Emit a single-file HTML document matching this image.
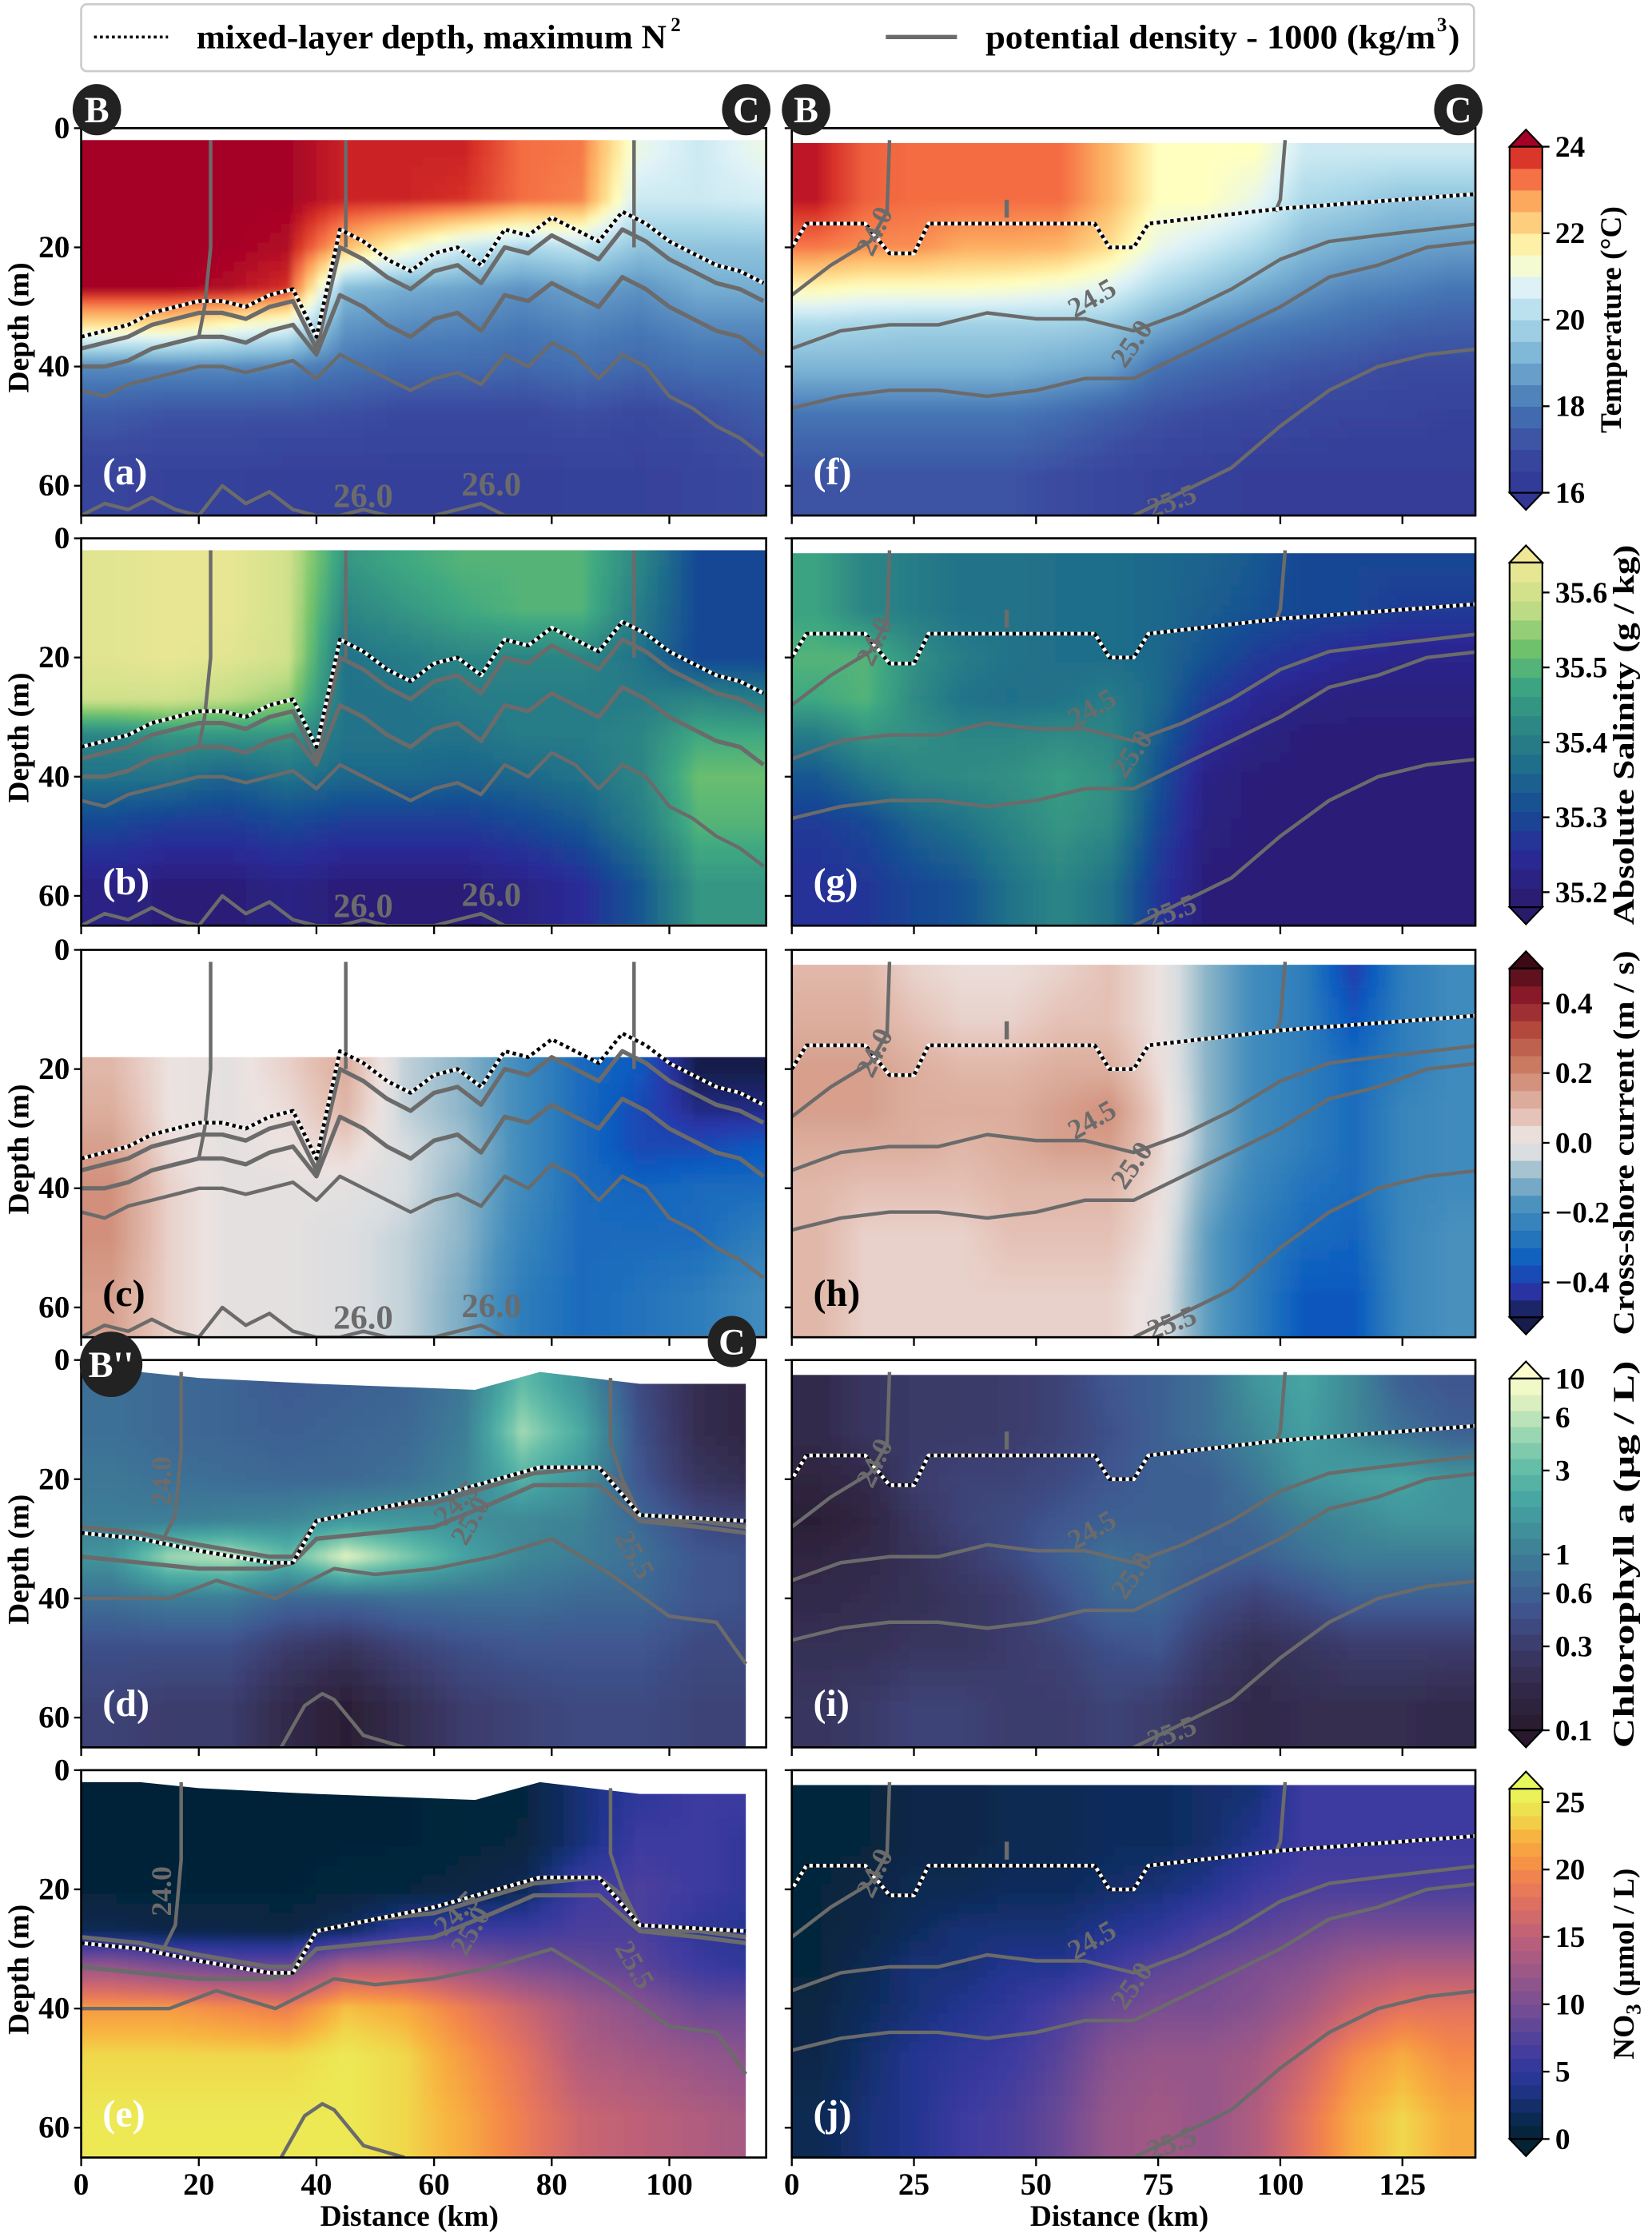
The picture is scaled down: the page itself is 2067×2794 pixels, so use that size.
<!DOCTYPE html>
<html><head><meta charset="utf-8">
<style>
html,body{margin:0;padding:0;background:#fff;}
svg{display:block;font-family:"Liberation Serif",serif;font-weight:bold;}
</style></head>
<body>
<svg id="fig" xmlns="http://www.w3.org/2000/svg" width="2067" height="2794" viewBox="0 0 1160 1568" preserveAspectRatio="none">
<defs>
<filter id="blur" x="-5%" y="-5%" width="110%" height="110%"><feGaussianBlur stdDeviation="2.5"/></filter>
</defs>
<g>
<rect x="57" y="3" width="978" height="47" rx="4" fill="#fff" stroke="#ccc" stroke-width="1.5"/>
<line x1="66" y1="26" x2="118" y2="26" stroke="#000" stroke-width="2" stroke-dasharray="2,2.2"/>
<text x="138" y="34" font-size="24" textLength="330" lengthAdjust="spacingAndGlyphs">mixed-layer depth, maximum N</text>
<text x="471" y="22" font-size="14">2</text>
<line x1="622" y1="26" x2="672" y2="26" stroke="#6b6b6b" stroke-width="3"/>
<text x="692" y="34" font-size="24" textLength="316" lengthAdjust="spacingAndGlyphs">potential density - 1000 (kg/m</text>
<text x="1009" y="22" font-size="14">3</text>
<text x="1017" y="34" font-size="24">)</text>
</g>
<g id="panels"></g>
<g id="cbars"></g>
</svg>
<script>
// ---------- DATA ----------
const depthEdges = [0,8,16,24,30,36,44,52,65];
const tickDepths = [0,20,40,60];
const leftTicks = [0,20,40,60,80,100];
const rightTicks = [0,25,50,75,100,125];

const tempLeft = [
[24.2,24.2,24.2,24.2,23.9,23.9,23.9,23.3,23.2,21,20.5,21],
[24.2,24.2,24.2,24.2,23.9,23.9,23.8,23.3,23.1,20.5,20.5,20.6],
[24.2,24.2,24.2,24.1,22.5,21.5,20.5,20,20.3,19.5,19.5,19.5],
[24.2,24.2,24.1,23.8,19.3,19,18.8,18.5,18.8,18.5,19,19],
[22,22,21.5,21,18.6,18.4,18.3,18.1,18.3,18.1,18.4,18.4],
[18.4,18.4,18.4,18.3,18,17.8,17.8,17.7,17.9,17.7,17.9,17.9],
[17.4,17.2,17.2,17.2,17.1,16.9,16.9,16.9,17.1,16.9,17.1,17.4],
[16.7,16.6,16.6,16.5,16.5,16.5,16.5,16.5,16.6,16.6,16.7,16.9]];
const tempRight = [
[24,23.4,23.3,23.3,23.3,23.3,22.6,21.5,21.5,21.5,20.5,20.5,20.5,20.5],
[24,23.4,23.3,23.3,23.3,23.3,22.6,21.5,21.5,21,20,19.8,19.5,19.5],
[23.2,23,23,22.7,22.7,22.6,22,21,20.5,20,19.3,19,18.8,18.7],
[21.6,21.4,21.4,21.4,21.3,21.1,20.8,20,19.5,19,18.6,18.3,18.2,18],
[20,19.9,19.8,19.8,19.8,19.8,19.6,19,18.5,18.2,18,17.8,17.6,17.5],
[19.2,19.2,19.2,19.2,19.2,19,18.8,18,17.7,17.5,17.3,17.2,17,17],
[18,18,18,18,18,17.8,17.5,17.2,17,16.9,16.8,16.7,16.7,16.6],
[17.2,17.2,17.2,17.2,17.2,17,16.8,16.6,16.5,16.4,16.4,16.4,16.4,16.4]];
const salLeft = [
[35.62,35.63,35.63,35.6,35.45,35.48,35.5,35.5,35.5,35.42,35.3,35.3],
[35.62,35.63,35.63,35.6,35.42,35.45,35.48,35.5,35.5,35.4,35.3,35.3],
[35.62,35.63,35.62,35.6,35.38,35.4,35.42,35.42,35.42,35.38,35.3,35.3],
[35.6,35.6,35.58,35.55,35.38,35.38,35.4,35.4,35.4,35.4,35.42,35.4],
[35.42,35.45,35.45,35.45,35.38,35.38,35.38,35.4,35.4,35.42,35.48,35.48],
[35.38,35.38,35.35,35.38,35.36,35.36,35.35,35.36,35.38,35.42,35.52,35.52],
[35.3,35.28,35.28,35.3,35.28,35.28,35.28,35.3,35.33,35.4,35.5,35.5],
[35.22,35.2,35.2,35.22,35.2,35.2,35.2,35.22,35.25,35.33,35.45,35.45]];
const salRight = [
[35.47,35.42,35.4,35.38,35.38,35.37,35.37,35.36,35.35,35.33,35.3,35.3,35.3,35.3],
[35.47,35.42,35.4,35.38,35.38,35.37,35.37,35.36,35.34,35.32,35.3,35.3,35.28,35.28],
[35.5,35.5,35.44,35.4,35.38,35.37,35.37,35.36,35.32,35.28,35.26,35.24,35.23,35.23],
[35.48,35.5,35.43,35.38,35.37,35.38,35.4,35.36,35.28,35.24,35.22,35.21,35.21,35.21],
[35.4,35.45,35.44,35.42,35.42,35.43,35.42,35.34,35.25,35.22,35.2,35.2,35.2,35.2],
[35.33,35.38,35.42,35.43,35.44,35.46,35.44,35.32,35.22,35.2,35.2,35.2,35.2,35.2],
[35.28,35.3,35.35,35.38,35.42,35.45,35.43,35.3,35.21,35.2,35.2,35.2,35.2,35.2],
[35.26,35.27,35.3,35.32,35.38,35.42,35.38,35.27,35.2,35.2,35.2,35.2,35.2,35.2]];
const curLeft = [
[0.1,0.02,0.0,0.05,0.12,-0.05,-0.1,-0.2,-0.3,-0.35,-0.5,-0.5],
[0.1,0.02,0.0,0.05,0.12,-0.05,-0.1,-0.2,-0.3,-0.35,-0.5,-0.5],
[0.1,0.02,0.0,0.05,0.12,-0.05,-0.1,-0.2,-0.3,-0.35,-0.5,-0.5],
[0.12,0.02,0.0,0.03,0.1,-0.05,-0.1,-0.2,-0.3,-0.38,-0.45,-0.45],
[0.15,0.03,0.0,0.02,0.05,-0.03,-0.08,-0.2,-0.3,-0.38,-0.38,-0.35],
[0.18,0.05,0.0,0.0,0.0,-0.03,-0.1,-0.2,-0.3,-0.32,-0.3,-0.3],
[0.18,0.05,0.0,0.0,-0.02,-0.05,-0.1,-0.22,-0.3,-0.3,-0.3,-0.25],
[0.15,0.05,0.0,0.0,-0.02,-0.05,-0.12,-0.25,-0.3,-0.28,-0.25,-0.2]];
const curRight = [
[0.1,0.1,0.05,0.03,0.03,0.05,0.08,0.02,-0.1,-0.2,-0.25,-0.4,-0.25,-0.2],
[0.12,0.12,0.08,0.05,0.05,0.08,0.08,0.02,-0.1,-0.2,-0.25,-0.35,-0.25,-0.2],
[0.15,0.15,0.12,0.1,0.1,0.12,0.12,0.03,-0.1,-0.2,-0.25,-0.3,-0.25,-0.2],
[0.15,0.15,0.12,0.12,0.12,0.15,0.18,0.05,-0.1,-0.2,-0.25,-0.3,-0.22,-0.2],
[0.12,0.12,0.12,0.1,0.12,0.15,0.15,0.05,-0.1,-0.2,-0.25,-0.3,-0.22,-0.2],
[0.1,0.08,0.08,0.08,0.1,0.1,0.1,0.03,-0.12,-0.22,-0.28,-0.3,-0.22,-0.2],
[0.1,0.05,0.05,0.05,0.08,0.08,0.08,0.02,-0.15,-0.25,-0.3,-0.32,-0.22,-0.18],
[0.1,0.05,0.05,0.05,0.05,0.05,0.05,0.0,-0.15,-0.25,-0.35,-0.35,-0.22,-0.18]];
const chlLeft = [
[0.8,0.7,0.65,0.55,0.6,0.65,0.9,3,1.5,0.4,0.2,0.15],
[0.8,0.7,0.65,0.6,0.65,0.7,1,5,2.2,0.45,0.2,0.15],
[0.9,0.8,0.75,0.7,0.7,0.8,1.1,2.5,1.5,0.5,0.25,0.2],
[1,1,1.1,1.2,1.6,1.6,1.4,1.2,1.1,0.7,0.4,0.35],
[1.5,5,6,3,8,4,2,1.2,1,0.8,0.5,0.45],
[0.8,1,1,0.7,0.7,0.8,0.8,0.8,0.7,0.7,0.5,0.45],
[0.45,0.45,0.45,0.3,0.25,0.35,0.45,0.5,0.5,0.5,0.4,0.4],
[0.35,0.3,0.3,0.18,0.12,0.2,0.3,0.35,0.4,0.4,0.35,0.35]];
const chlRight = [
[0.18,0.25,0.28,0.28,0.3,0.35,0.5,0.6,0.8,1.5,2,1.2,0.6,0.5],
[0.18,0.25,0.28,0.28,0.3,0.35,0.45,0.6,0.8,1.2,1.8,1.2,0.8,0.6],
[0.15,0.18,0.3,0.35,0.35,0.4,0.5,0.6,0.6,0.9,1.5,1.8,2,1.5],
[0.12,0.15,0.25,0.35,0.4,0.5,0.6,0.6,0.6,0.7,1,1.2,1.5,1.5],
[0.15,0.18,0.22,0.3,0.4,0.6,0.8,0.7,0.6,0.6,0.8,1,1,1],
[0.18,0.2,0.22,0.25,0.3,0.45,0.7,0.7,0.45,0.35,0.45,0.6,0.6,0.6],
[0.22,0.22,0.25,0.25,0.3,0.35,0.45,0.5,0.3,0.22,0.25,0.3,0.3,0.3],
[0.25,0.28,0.35,0.35,0.3,0.3,0.35,0.3,0.22,0.18,0.2,0.2,0.2,0.18]];
const no3Left = [
[0.3,0.3,0.3,0.3,0.3,0.3,0.4,0.5,3,5,6,6],
[0.3,0.3,0.3,0.3,0.3,0.3,0.4,0.6,3,6,6,5],
[0.3,0.3,0.3,0.3,0.4,0.5,0.8,1.5,6,7,6,5],
[1.5,1,1,0.8,2,5,6,6,7,7,5,4],
[12,10,9,9,14,14,12,10,9,8,6,5],
[21,21,20,19,23,22,19,16,13,11,9,9],
[24,24,24,24,25,24,21,18,14,13,12,11],
[25,25,25,25,25,24,22,19,16,15,14,13]];
const no3Right = [
[0.5,0.5,1,1,1.5,1.5,2,2,2.5,3,6,6,6,6],
[0.5,0.5,1,1,1.5,1.5,2,2,2.5,4,6,6,6,6],
[0.5,0.8,1.5,1.5,2,2,2.5,3,4,6,7,7,7,7],
[0.5,1,2,3,3,3,4,5,7,8,9,10,10,10],
[0.5,1.5,3,3,4,4,6,8,9,10,11,13,14,14],
[0.8,2,3,4,5,7,9,10,10,11,13,16,18,18],
[1,2.5,4,5,6,8,11,12,12,13,16,20,22,20],
[1.5,3,4,6,7,9,12,13,12,14,18,22,24,22]];

const gliderDist = [0,4,8,12,16,20,24,28,32,36,40,44,48,52,56,60,64,68,72,76,80,84,88,92,96,100,104,108,112,116];
const mldGlider = [35,34,33,31,30,29,29,30,28,27,35,17,19,22,24,21,20,23,17,18,15,17,19,14,16,19,21,23,24,26];
const sig245Glider = [37,36,35,33,32,31,31,32,30,29,37,20,22,25,27,24,23,26,20,21,18,20,22,17,19,22,24,26,27,29];
const sig250Glider = [40,40,39,37,36,35,35,36,34,33,38,28,30,33,35,32,31,34,28,29,26,28,30,25,27,30,32,34,35,38];
const sig255Glider = [44,45,43,42,41,40,40,41,40,39,42,38,40,42,44,42,41,43,38,40,36,38,42,38,40,45,47,50,52,55];
const sig260Glider = [65,63,64,62,64,65,60,63,61,64,65,65,64,65,65,65,64,63,65,65,65,65,65,65,65,65,65,65,65,65];

const topDist = [0,10,20,40,67,78,95,113];
const topDepth = [2,2,3,4,5,2,4,4];
const mldDist = [0,10,20,32,36,40,60,78,88,95,113];
const mldDepth = [29,30,32,34,34,27,23,18,18,26,27];
const s240Dist = [17,17,16,14,13];
const s240Depth = [2,15,26,30,31];
const s245Dist = [0,10,20,32,36,40,50,60,77,88,92,95,105,113];
const s245Depth = [28,29,31,33,33,27,25,24,19,18,21,27,27,28];
const s250Dist = [0,10,20,32,36,40,50,60,70,77,88,95,105,113];
const s250Depth = [33,34,35,35,34,30,29,28,24,21,21,27,28,29];
const s255Dist = [0,15,23,33,37,43,50,60,70,80,90,100,108,113];
const s255Depth = [40,40,37,40,38,35,36,35,33,30,36,43,44,51];
const s260Dist = [34,38,41,43,48,55];
const s260Depth = [65,58,56,57,63,65];

const mRightDist = [0,3,15,20,25,28,62,65,70,73,100,141];
const mRightDepth = [20,16,16,21,21,16,16,20,20,16,13.5,11];
const r240Dist = [20,19.5,16,8,0];
const r240Depth = [2,14,19,23,28];
const r240bDist = [101,100,99];
const r240bDepth = [2,12,14];
const r245Dist = [0,10,20,30,40,50,60,70,80,90,100,110,120,141];
const r245Depth = [37,34,33,33,31,32,32,34,31,27,22,19,18,16];
const r250Dist = [0,10,20,30,40,50,60,70,80,90,100,110,120,130,141];
const r250Depth = [47,45,44,44,45,44,42,42,38,34,30,25,23,20,19];
const r255Dist = [70,80,90,100,110,120,130,141];
const r255Depth = [65,61,57,50,44,40,38,37];

// ---------- COLORMAPS ----------
const cmTemp=[[16,'#313695'],[17,'#3a4a9f'],[18,'#4575b4'],[19,'#74add1'],[20,'#abd9e9'],[20.8,'#e0f3f8'],[21.5,'#ffffbf'],[22,'#fee090'],[22.7,'#fdae61'],[23.3,'#f46d43'],[23.8,'#d73027'],[24.2,'#a50026']];
const cmSal=[[35.18,'#2a1a6a'],[35.25,'#2a2a98'],[35.31,'#164c94'],[35.37,'#1f6e8a'],[35.43,'#2f8a84'],[35.48,'#3ea882'],[35.53,'#74c46a'],[35.58,'#c2dd86'],[35.64,'#f0e896']];
const cmCur=[[-0.5,'#161d4a'],[-0.42,'#2a35a8'],[-0.34,'#0b5cc0'],[-0.26,'#2a7abb'],[-0.18,'#4890bd'],[-0.1,'#8ab4c8'],[-0.03,'#d8dde0'],[0.02,'#ece2e0'],[0.08,'#e4c0b4'],[0.14,'#d8a492'],[0.22,'#cc7c64'],[0.32,'#b54a3e'],[0.42,'#8c1a2a'],[0.52,'#3c0a14']];
const cmChl=[[-1,'#281a2c'],[-0.7,'#342d50'],[-0.5,'#3c3e70'],[-0.3,'#3f5690'],[-0.1,'#3c7096'],[0.05,'#3e8496'],[0.3,'#45a4a2'],[0.5,'#64bea8'],[0.7,'#a0d8b4'],[0.85,'#d6eebe'],[1,'#fdfecc']];
const cmNo3=[[0,'#042333'],[2,'#0d2c5c'],[4,'#243590'],[6,'#3c3aa0'],[8,'#5a4498'],[10,'#7a4e92'],[12,'#95568a'],[15,'#bd6078'],[18,'#e4735e'],[20,'#f58a48'],[22.5,'#f8b440'],[24,'#f0d84c'],[26,'#e8fa5b']];

function hex2rgb(h){return [parseInt(h.substr(1,2),16),parseInt(h.substr(3,2),16),parseInt(h.substr(5,2),16)];}
function cmap(stops,v){
  if(v<=stops[0][0]) return stops[0][1];
  if(v>=stops[stops.length-1][0]) return stops[stops.length-1][1];
  for(let i=0;i<stops.length-1;i++){
    if(v>=stops[i][0]&&v<=stops[i+1][0]){
      const t=(v-stops[i][0])/(stops[i+1][0]-stops[i][0]);
      const a=hex2rgb(stops[i][1]),b=hex2rgb(stops[i+1][1]);
      return 'rgb('+a.map((c,k)=>Math.round(c+(b[k]-c)*t)).join(',')+')';
    }
  }
}
const NS='http://www.w3.org/2000/svg';
function mk(tag,attrs,parent){const e=document.createElementNS(NS,tag);for(const k in attrs)e.setAttribute(k,attrs[k]);parent.appendChild(e);return e;}

const panelTops=[90,378,667,955,1243];
const PH=272, DMAX=65;
const sides={L:{x0:57,x1:538,k:4.13,dmax:116.5},R:{x0:556,x1:1036,k:3.43,dmax:141}};
function xS(side,d){return sides[side].x0+d*sides[side].k;}
function yS(row,z){return panelTops[row]+z*PH/DMAX;}

const panels=[
 {side:'L',row:0,grid:tempLeft,cm:cmTemp,tr:v=>v,letter:'(a)',lc:'#fff',name:'panel-a-temperature'},
 {side:'L',row:1,grid:salLeft,cm:cmSal,tr:v=>v,letter:'(b)',lc:'#fff',name:'panel-b-salinity'},
 {side:'L',row:2,grid:curLeft,cm:cmCur,tr:v=>v,letter:'(c)',lc:'#000',name:'panel-c-current'},
 {side:'L',row:3,grid:chlLeft,cm:cmChl,tr:v=>Math.log10(v),letter:'(d)',lc:'#fff',name:'panel-d-chlorophyll'},
 {side:'L',row:4,grid:no3Left,cm:cmNo3,tr:v=>v,letter:'(e)',lc:'#fff',name:'panel-e-nitrate'},
 {side:'R',row:0,grid:tempRight,cm:cmTemp,tr:v=>v,letter:'(f)',lc:'#fff',name:'panel-f-temperature'},
 {side:'R',row:1,grid:salRight,cm:cmSal,tr:v=>v,letter:'(g)',lc:'#fff',name:'panel-g-salinity'},
 {side:'R',row:2,grid:curRight,cm:cmCur,tr:v=>v,letter:'(h)',lc:'#000',name:'panel-h-current'},
 {side:'R',row:3,grid:chlRight,cm:cmChl,tr:v=>Math.log10(v),letter:'(i)',lc:'#fff',name:'panel-i-chlorophyll'},
 {side:'R',row:4,grid:no3Right,cm:cmNo3,tr:v=>v,letter:'(j)',lc:'#fff',name:'panel-j-nitrate'}
];
const root=document.getElementById('panels');
function polyline(g,side,row,xs,zs,stroke,w,dash){
  const pts=xs.map((d,i)=>xS(side,d).toFixed(1)+','+yS(row,Math.min(zs[i],DMAX)).toFixed(1)).join(' ');
  const a={points:pts,fill:'none',stroke:stroke,'stroke-width':w,'stroke-linejoin':'round'};
  if(dash)a['stroke-dasharray']=dash;
  return mk('polyline',a,g);
}
function mldLine(g,side,row,xs,zs){
  const u=polyline(g,side,row,xs,zs,'#fff',2.6);
  
  
  const l=polyline(g,side,row,xs,zs,'#000',2.6,'2.4,2.4');
  
  
}
function isoLine(g,side,row,xs,zs,w){
  const l=polyline(g,side,row,xs,zs,'#6b6b6b',w||2.5);
  
  
}
function isoLabel(g,x,y,rot,t,fs){
  const e=mk('text',{x:x,y:y,'font-size':fs||22,fill:'#6b6b6b','text-anchor':'middle',transform:'rotate('+rot+' '+x+' '+y+')'},g);
  e.textContent=t;
  
  
}
// bilinear sample of grid (values at cell centres) at distance d, depth z
function sample(grid,tr,d,z){
  const nr=grid.length,nc=grid[0].length;
  const rc=depthEdges.slice(0,-1).map((e,i)=>(e+depthEdges[i+1])/2);
  let fc=d/10-0.5; fc=Math.max(0,Math.min(nc-1,fc));
  const c0=Math.floor(fc),c1=Math.min(nc-1,c0+1),tc=fc-c0;
  let r0=0; while(r0<nr-1&&rc[r0+1]<z) r0++;
  const r1=Math.min(nr-1,r0+1);
  let tz=(r1===r0)?0:(z-rc[r0])/(rc[r1]-rc[r0]); tz=Math.max(0,Math.min(1,tz));
  const v=(r,c)=>tr(grid[r][c]);
  return (v(r0,c0)*(1-tc)+v(r0,c1)*tc)*(1-tz)+(v(r1,c0)*(1-tc)+v(r1,c1)*tc)*tz;
}

panels.forEach((p,pi)=>{
  const s=sides[p.side];
  const top=panelTops[p.row];
  const g=mk('g',{},root);
  
  
  const cid='clip'+pi;
  const cp=mk('clipPath',{id:cid},g);
  mk('rect',{x:s.x0,y:top,width:s.x1-s.x0,height:PH},cp);
  const clipG=mk('g',{'clip-path':'url(#'+cid+')'},g);
  const field=mk('g',{filter:'url(#blur)'},clipG);
  
  
  const nc=p.grid[0].length;
  const SUB=5;
  for(let r=0;r<depthEdges.length-1;r++){
    for(let sr=0;sr<SUB;sr++){
      const z0=depthEdges[r]+(depthEdges[r+1]-depthEdges[r])*sr/SUB;
      const z1=depthEdges[r]+(depthEdges[r+1]-depthEdges[r])*(sr+1)/SUB;
      for(let c=0;c<nc;c++){for(let sc=0;sc<SUB;sc++){
        const d0=c*10+10*sc/SUB, d1=c*10+10*(sc+1)/SUB;
        const v=sample(p.grid,p.tr,(d0+d1)/2,(z0+z1)/2);
        let x0=xS(p.side,d0),x1=xS(p.side,d1),y0=yS(p.row,z0),y1=yS(p.row,z1);
        if(c===0&&sc===0)x0-=10; if(c===nc-1&&sc===SUB-1)x1=s.x1+10;
        if(r===0&&sr===0)y0-=10; if(r===depthEdges.length-2&&sr===SUB-1)y1+=10;
        const cell=mk('rect',{x:x0.toFixed(1),y:y0.toFixed(1),width:(x1-x0+0.6).toFixed(1),height:(y1-y0+0.6).toFixed(1),fill:cmap(p.cm,v)},field);
        
        
      }}
    }
  }
  if(p.side==='L'&&p.row<=2){
    const m=mk('rect',{x:s.x0,y:top,width:s.x1-s.x0,height:(p.row===2?18:2)*PH/DMAX},clipG);
    
    
    m.setAttribute('fill','#fff');
  }
  if(p.side==='L'&&p.row>=3){
    let pts=xS('L',0)+','+(top-2)+' ';
    pts+=topDist.map((d,i)=>xS('L',d).toFixed(1)+','+yS(p.row,topDepth[i]).toFixed(1)).join(' ');
    pts+=' '+xS('L',113)+','+(top+PH+5)+' '+(s.x1+5)+','+(top+PH+5)+' '+(s.x1+5)+','+(top-2);
    const m=mk('polygon',{points:pts,fill:'#fff'},clipG);
    
    
  }
  if(p.side==='R'){
    const m=mk('rect',{x:s.x0,y:top,width:s.x1-s.x0,height:2.5*PH/DMAX,fill:'#fff'},clipG);
    
    
  }
  const lg=mk('g',{},clipG);
  if(p.side==='L'&&p.row<=2){
    isoLine(lg,'L',p.row,[22,22,21,20],[2,20,30,35],2.5);
    isoLine(lg,'L',p.row,[45,45],[2,20],2.5);
    isoLine(lg,'L',p.row,[94,94],[2,20],2.5);
    isoLine(lg,'L',p.row,gliderDist,sig245Glider,3);
    isoLine(lg,'L',p.row,gliderDist,sig250Glider,3);
    isoLine(lg,'L',p.row,gliderDist,sig255Glider,2.5);
    isoLine(lg,'L',p.row,gliderDist,sig260Glider,2.5);
    mldLine(lg,'L',p.row,gliderDist,mldGlider);
    isoLabel(lg,255,top+266,0,'26.0',24);
    isoLabel(lg,345,top+258,0,'26.0',24);
  } else if(p.side==='L'){
    isoLine(lg,'L',p.row,s240Dist,s240Depth,2.5);
    isoLine(lg,'L',p.row,[90,90,92,95],[3,14,20,26],2.5);
    isoLine(lg,'L',p.row,s245Dist,s245Depth,3);
    isoLine(lg,'L',p.row,s250Dist,s250Depth,3);
    isoLine(lg,'L',p.row,s255Dist,s255Depth,2.5);
    isoLine(lg,'L',p.row,s260Dist,s260Depth,2.5);
    mldLine(lg,'L',p.row,mldDist,mldDepth);
    isoLabel(lg,120,top+85,-90,'24.0',20);
    isoLabel(lg,325,top+105,-45,'24.5',20);
    isoLabel(lg,336,top+116,-60,'25.0',20);
    isoLabel(lg,440,top+140,60,'25.5',20);
  } else {
    isoLine(lg,'R',p.row,r240Dist,r240Depth,2.5);
    isoLine(lg,'R',p.row,r240bDist,r240bDepth,2.5);
    isoLine(lg,'R',p.row,[44,44],[12,15],3);
    isoLine(lg,'R',p.row,r245Dist,r245Depth,2.5);
    isoLine(lg,'R',p.row,r250Dist,r250Depth,2.5);
    isoLine(lg,'R',p.row,r255Dist,r255Depth,2.5);
    mldLine(lg,'R',p.row,mRightDist,mRightDepth);
    isoLabel(lg,620,top+75,-65,'24.0',20);
    isoLabel(lg,770,top+125,-30,'24.5',20);
    isoLabel(lg,800,top+155,-55,'25.0',20);
    isoLabel(lg,825,top+268,-20,'25.5',20);
  }
  const fr=mk('rect',{x:s.x0,y:top,width:s.x1-s.x0,height:PH,fill:'none',stroke:'#000','stroke-width':1.5},g);
  
  
  tickDepths.forEach(z=>{
    const y=yS(p.row,z);
    mk('line',{x1:s.x0-5,y1:y,x2:s.x0,y2:y,stroke:'#000','stroke-width':1.3},g);
    if(p.side==='L'){
      const t=mk('text',{x:s.x0-8,y:y+7,'font-size':22,'text-anchor':'end'},g);
      t.textContent=z;
      
      
    }
  });
  if(p.side==='L'){
    const yl=mk('text',{x:20,y:top+140,'font-size':21,'text-anchor':'middle',transform:'rotate(-90 20 '+(top+140)+')'},g);
    yl.textContent='Depth (m)';
    
    
  }
  const tks=p.side==='L'?leftTicks:rightTicks;
  tks.forEach(d=>{
    const x=xS(p.side,d);
    mk('line',{x1:x,y1:top+PH,x2:x,y2:top+PH+6,stroke:'#000','stroke-width':1.3},g);
    if(p.row===4){
      const t=mk('text',{x:x,y:top+PH+26,'font-size':22,'text-anchor':'middle'},g);
      t.textContent=d;
      
      
    }
  });
  if(p.row===4){
    const xl=mk('text',{x:(s.x0+s.x1)/2-10,y:1563,'font-size':21,'text-anchor':'middle'},g);
    xl.textContent='Distance (km)';
    
    
  }
  const lt=mk('text',{x:s.x0+15,y:top+250,'font-size':27,fill:p.lc},g);
  lt.textContent=p.letter;
  
  
});

const markers=[[68,77,17,'B'],[524,77,17,'C'],[566,77,17,'B'],[1024,77,17,'C'],[78,958,22,'B\'\''],[514,942,17,'C']];
markers.forEach(m=>{
  const g=mk('g',{},root);
  
  
  mk('ellipse',{cx:m[0],cy:m[1],rx:m[2],ry:m[2]+1,fill:'#222'},g);
  const t=mk('text',{x:m[0],y:m[1]+9,'font-size':26,fill:'#fff','text-anchor':'middle'},g);
  t.textContent=m[3];
});

const cbTemp={cm:cmTemp,tr:v=>v,vmin:16,vmax:24,top:103,bot:346,ticks:[16,18,20,22,24],labels:['16','18','20','22','24'],n:16,title:'Temperature (\u00b0C)',name:'colorbar-temperature'};
const cbSal={cm:cmSal,tr:v=>v,vmin:35.18,vmax:35.64,top:395,bot:637,ticks:[35.2,35.3,35.4,35.5,35.6],labels:['35.2','35.3','35.4','35.5','35.6'],n:18,title:'Absolute Salinity (g / kg)',name:'colorbar-salinity'};
const cbCur={cm:cmCur,tr:v=>v,vmin:-0.5,vmax:0.5,top:680,bot:925,ticks:[-0.4,-0.2,0,0.2,0.4],labels:['\u22120.4','\u22120.2','0.0','0.2','0.4'],n:20,title:'Cross-shore current (m / s)',name:'colorbar-current'};
const cbChl={cm:cmChl,tr:v=>Math.log10(v),vmin:-1,vmax:1,top:968,bot:1215,ticks:[0.1,0.3,0.6,1,3,6,10],labels:['0.1','0.3','0.6','1','3','6','10'],n:22,title:'Chlorophyll a (\u03bcg / L)',name:'colorbar-chlorophyll'};
const cbNo3={cm:cmNo3,tr:v=>v,vmin:0,vmax:26,top:1256,bot:1502,ticks:[0,5,10,15,20,25],labels:['0','5','10','15','20','25'],n:26,title:'NO3',name:'colorbar-nitrate'};
const cbs=[cbTemp,cbSal,cbCur,cbChl,cbNo3];
const cbRoot=document.getElementById('cbars');
cbs.forEach(cb=>{
  const g=mk('g',{},cbRoot);
  
  
  const X0=1060,X1=1083,H=cb.bot-cb.top;
  for(let i=0;i<cb.n;i++){
    const v=cb.vmin+(i+0.5)*(cb.vmax-cb.vmin)/cb.n;
    const y1=cb.bot-i*H/cb.n, y0=cb.bot-(i+1)*H/cb.n;
    mk('rect',{x:X0,y:y0,width:X1-X0,height:y1-y0+0.4,fill:cmap(cb.cm,v)},g);
  }
  mk('polygon',{points:X0+','+cb.top+' '+(X0+X1)/2+','+(cb.top-12)+' '+X1+','+cb.top,fill:cmap(cb.cm,cb.vmax+1),stroke:'#000','stroke-width':1.2},g);
  mk('polygon',{points:X0+','+cb.bot+' '+(X0+X1)/2+','+(cb.bot+12)+' '+X1+','+cb.bot,fill:cmap(cb.cm,cb.vmin-1),stroke:'#000','stroke-width':1.2},g);
  mk('rect',{x:X0,y:cb.top,width:X1-X0,height:H,fill:'none',stroke:'#000','stroke-width':1.2},g);
  cb.ticks.forEach((tv,i)=>{
    const v=cb.tr(tv);
    const y=cb.bot-(v-cb.vmin)/(cb.vmax-cb.vmin)*H;
    mk('line',{x1:X1,y1:y,x2:X1+5,y2:y,stroke:'#000','stroke-width':1.3},g);
    const t=mk('text',{x:X1+9,y:y+7,'font-size':21},g);
    t.textContent=cb.labels[i];
    
    
  });
  const cy=(cb.top+cb.bot)/2, cx=cb.name==='colorbar-temperature'?1138:1147;
  const tt=mk('text',{x:cx,y:cy,'font-size':21,'text-anchor':'middle',transform:'rotate(-90 '+cx+' '+cy+')'},g);
  
  
  if(cb.title==='NO3'){
    tt.innerHTML='NO<tspan font-size="15" dy="5">3</tspan><tspan dy="-5"> (\u03bcmol / L)</tspan>';
  } else {
    tt.textContent=cb.title;
    if(cb.title.length>20){tt.setAttribute('textLength',H+25);tt.setAttribute('lengthAdjust','spacingAndGlyphs');}
  }
});
</script>
</body></html>
